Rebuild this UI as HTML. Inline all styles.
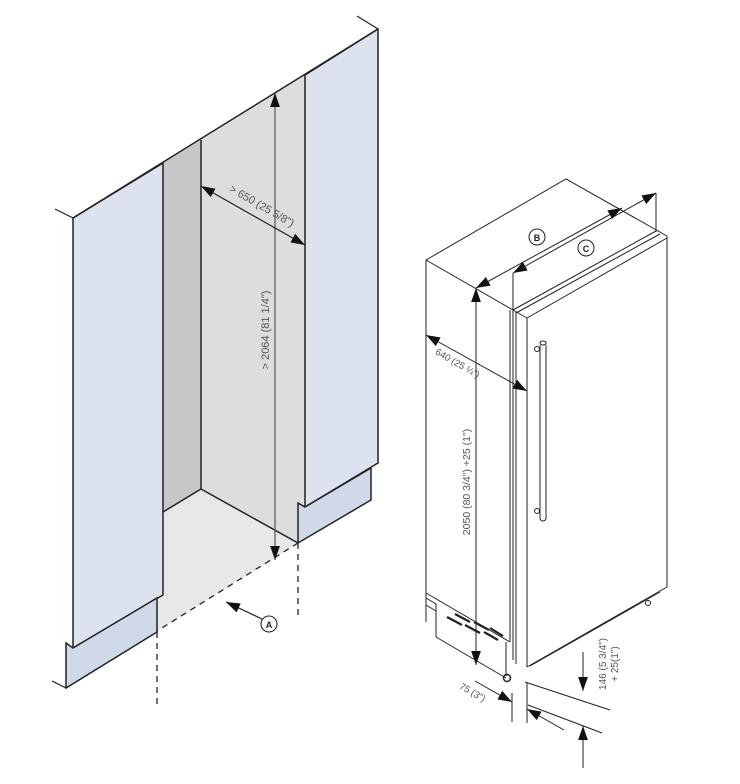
<!DOCTYPE html>
<html><head><meta charset="utf-8"><style>
html,body{margin:0;padding:0;background:#fff;}
svg{display:block;}
text{font-family:"Liberation Sans",sans-serif;fill:#555;}
</style></head><body>
<svg width="740" height="784" viewBox="0 0 740 784" xmlns="http://www.w3.org/2000/svg">
<defs>
<marker id="ahb" viewBox="0 0 10 10" refX="10" refY="5" markerWidth="14" markerHeight="14" markerUnits="userSpaceOnUse" orient="auto-start-reverse"><path d="M0,1.5 L10,5 L0,8.5 Z" fill="#111"/></marker>
</defs>
<!-- LEFT DRAWING -->
<g stroke="#222" stroke-width="1.5" stroke-linejoin="miter">
<polygon points="163,512 201,489 298,543 157,631 157,598 163,595" fill="#e7e8e9" stroke="none"/>
<polygon points="201,140 305,75 305,507 298,504 298,543 201,489" fill="#dcdddf" stroke="none"/>
<polygon points="163,163 201,140 201,489 163,512" fill="#c6c7c9" stroke="none"/>
<polygon points="73,218 163,163 163,595 73,648" fill="#dce3ef"/>
<polygon points="305,75 378,29 378,463 305,507" fill="#dce3ef"/>
<polygon points="66,643 73,648 157,598 157,632 66,688" fill="#cfd9e8"/>
<polygon points="298,503 305,507 371,468 371,500 298,543" fill="#cfd9e8"/>
<line x1="201" y1="140" x2="201" y2="489"/>
<line x1="163" y1="512" x2="201" y2="489"/>
<line x1="201" y1="489" x2="298" y2="543"/>
<line x1="73" y1="218" x2="378" y2="29"/>
<line x1="55" y1="209" x2="73" y2="218" stroke-width="1.2"/>
<line x1="357" y1="16" x2="378" y2="29" stroke-width="1.2"/>
<line x1="52" y1="681" x2="66" y2="688" stroke-width="1.2"/>
</g>
<g stroke="#222" stroke-width="1.3" stroke-dasharray="6,5" fill="none">
<line x1="298" y1="543" x2="157" y2="631"/>
<line x1="157" y1="632" x2="157" y2="708"/>
<line x1="298" y1="543" x2="298" y2="620"/>
</g>
<line x1="275" y1="93" x2="275" y2="560" stroke="#555" stroke-width="1.2" marker-start="url(#ahb)" marker-end="url(#ahb)"/>
<line x1="201" y1="186" x2="305" y2="245" stroke="#222" stroke-width="1.2" marker-start="url(#ahb)" marker-end="url(#ahb)"/>
<text x="0" y="0" font-size="11" transform="translate(269,330) rotate(-90)" text-anchor="middle">&gt; 2064 (81 1/4")</text>
<text x="0" y="0" font-size="11" transform="translate(260,209) rotate(30)" text-anchor="middle">&gt; 650 (25 5/8")</text>
<line x1="262" y1="619" x2="226" y2="602" stroke="#222" stroke-width="1.2" marker-end="url(#ahb)"/>
<circle cx="269" cy="624" r="8" fill="#fff" stroke="#222" stroke-width="1.1"/>
<text x="269" y="628" font-size="9" font-weight="bold" text-anchor="middle" style="fill:#222">A</text>

<!-- RIGHT DRAWING -->
<g stroke="#222" stroke-width="1" fill="none">
<polyline points="426,260 566,179 667,236"/>
<line x1="426" y1="260" x2="513" y2="310"/>
<line x1="513" y1="310" x2="656" y2="231"/>
<line x1="516" y1="313" x2="660" y2="234"/>
<line x1="527" y1="318" x2="667" y2="238"/>
<line x1="513" y1="310" x2="527" y2="318"/>
<line x1="667" y1="236" x2="667" y2="587"/>
<line x1="426" y1="260" x2="426" y2="622"/>
<line x1="510" y1="310" x2="510" y2="642"/>
<line x1="513" y1="310" x2="513" y2="660"/>
<line x1="516" y1="312" x2="516" y2="664"/>
<line x1="527" y1="318" x2="527" y2="667"/>
<line x1="527" y1="667" x2="667" y2="587"/>
<line x1="530" y1="666" x2="660" y2="592"/>
<line x1="426" y1="593" x2="510" y2="642"/>
<line x1="436" y1="611" x2="436" y2="637"/>
<line x1="426" y1="605" x2="436" y2="611"/>
<line x1="436" y1="637" x2="506" y2="678"/>
<polyline points="426,598 436,604 436,611"/>
<line x1="506" y1="642" x2="506" y2="676"/>
<path d="M540,345 L540,518 A3,3 0 0 0 546,518 L546,345"/>
<ellipse cx="543" cy="343" rx="3" ry="2"/>
<circle cx="537" cy="349" r="2.5"/>
<circle cx="537" cy="511" r="2.5"/>
<circle cx="507" cy="678" r="3.5" stroke-width="1.5"/>
<circle cx="648" cy="603" r="2.5"/>
</g>
<g stroke="#222" stroke-width="2.2">
<line x1="447" y1="617" x2="462" y2="625"/><line x1="455" y1="614" x2="470" y2="622"/>
<line x1="465" y1="625" x2="480" y2="633"/><line x1="474" y1="622" x2="489" y2="630"/>
<line x1="484" y1="632" x2="498" y2="640"/><line x1="490" y1="628" x2="503" y2="636"/>
</g>
<g stroke="#222" stroke-width="1" fill="none">
<line x1="476" y1="288" x2="476" y2="665" marker-start="url(#ahb)" marker-end="url(#ahb)"/>
<line x1="476" y1="288" x2="622" y2="208" marker-start="url(#ahb)" marker-end="url(#ahb)"/>
<line x1="513" y1="273" x2="656" y2="193" marker-start="url(#ahb)" marker-end="url(#ahb)"/>
<line x1="513" y1="273" x2="513" y2="310"/>
<line x1="656" y1="193" x2="656" y2="232"/>
<line x1="426" y1="335" x2="527" y2="391" marker-start="url(#ahb)" marker-end="url(#ahb)"/>
<line x1="475" y1="681" x2="512" y2="702" marker-end="url(#ahb)"/>
<line x1="512" y1="693" x2="512" y2="722"/>
<line x1="527" y1="683" x2="527" y2="723"/>
<line x1="564" y1="730" x2="527" y2="709" marker-end="url(#ahb)"/>
<line x1="525" y1="682" x2="610" y2="710"/>
<line x1="528" y1="705" x2="602" y2="733"/>
<line x1="583" y1="652" x2="583" y2="691" marker-end="url(#ahb)"/>
<line x1="583" y1="768" x2="583" y2="726" marker-end="url(#ahb)"/>
</g>
<circle cx="537" cy="237" r="8" fill="#fff" stroke="#222" stroke-width="1"/>
<text x="537" y="241" font-size="9" font-weight="bold" text-anchor="middle" style="fill:#222">B</text>
<circle cx="586" cy="248" r="8" fill="#fff" stroke="#222" stroke-width="1"/>
<text x="586" y="252" font-size="9" font-weight="bold" text-anchor="middle" style="fill:#222">C</text>
<text font-size="9.5" transform="translate(456,366) rotate(30)" text-anchor="middle">640 (25 ¼")</text>
<text font-size="10.5" transform="translate(470,482) rotate(-90)" text-anchor="middle">2050 (80 3/4") +25 (1")</text>
<text font-size="9.5" transform="translate(471,695) rotate(30)" text-anchor="middle">75 (3")</text>
<text font-size="10" transform="translate(606,664) rotate(-90)" text-anchor="middle">146 (5 3/4")</text>
<text font-size="10" transform="translate(618,664) rotate(-90)" text-anchor="middle">+ 25(1")</text>
</svg>
</body></html>
